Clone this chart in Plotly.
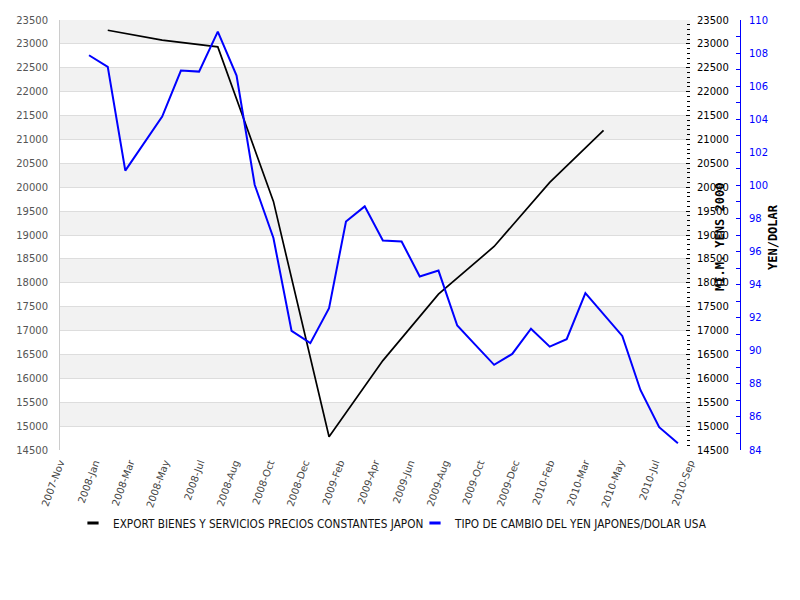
import plotly.graph_objects as go
import pandas as pd
import numpy as np

# ---------------- data ----------------
blue_months = [
    "2008-01-01", "2008-02-01", "2008-03-01", "2008-04-01", "2008-05-01", "2008-06-01",
    "2008-07-01", "2008-08-01", "2008-09-01", "2008-10-01", "2008-11-01", "2008-12-01",
    "2009-01-01", "2009-02-01", "2009-03-01", "2009-04-01", "2009-05-01", "2009-06-01",
    "2009-07-01", "2009-08-01", "2009-09-01", "2009-10-01", "2009-11-01", "2009-12-01",
    "2010-01-01", "2010-02-01", "2010-03-01", "2010-04-01", "2010-05-01", "2010-06-01",
    "2010-07-01", "2010-08-01", "2010-09-01",
]
yen_dolar = [
    107.87, 107.17, 100.89, 102.52, 104.16, 106.94, 106.88, 109.30, 106.64, 100.04,
    96.82, 91.20, 90.46, 92.58, 97.82, 98.73, 96.67, 96.61, 94.49, 94.85,
    91.53, 90.36, 89.15, 89.81, 91.33, 90.25, 90.70, 93.49, 92.19, 90.90,
    87.63, 85.38, 84.41,
]

black_quarters = [
    "2008-02-01", "2008-05-01", "2008-08-01", "2008-11-01", "2009-02-01",
    "2009-05-01", "2009-08-01", "2009-11-01", "2010-02-01", "2010-05-01",
]
export_japon = [23286, 23080, 22938, 19703, 14778, 16371, 17762, 18760, 20101, 21191]

x_tick_labels = [
    "2007-Nov", "2008-Jan", "2008-Mar", "2008-May", "2008-Jul", "2008-Aug",
    "2008-Oct", "2008-Dec", "2009-Feb", "2009-Apr", "2009-Jun", "2009-Aug",
    "2009-Oct", "2009-Dec", "2010-Feb", "2010-Mar", "2010-May", "2010-Jul", "2010-Sep",
]

name_black = "EXPORT BIENES Y SERVICIOS PRECIOS CONSTANTES JAPON"
name_blue = "TIPO DE CAMBIO DEL YEN JAPONES/DOLAR USA"
title_left = "MI.M. YENS 2000"
title_right = "YEN/DOLAR"

y1_range = [14500, 23500]
y1_step = 500
y2_range = [84, 110]

x_start = pd.Timestamp("2007-11-14")
x_end = pd.Timestamp("2010-09-21")
tick_positions = pd.date_range(x_start, x_end, periods=len(x_tick_labels))

# ---------------- figure ----------------
W, H = 800, 600
OFF = 8  # page body margin offset
plot_left, plot_right, plot_top, plot_bottom = 60, 690, 20, 450
paper_right = 750
ml = plot_left - OFF
mt = plot_top - OFF
mb = H - (plot_bottom - OFF)
mr = W - (paper_right - OFF)
paper_w = W - ml - mr
paper_h = H - mt - mb


def px_x(page_x):
    return (page_x - plot_left) / paper_w


def px_y(page_y):
    return (plot_bottom - page_y) / paper_h


fig = go.Figure()

fig.add_trace(go.Scatter(
    x=black_quarters, y=export_japon, mode="lines", name=name_black,
    line=dict(color="#000000", width=1.7), yaxis="y", showlegend=False,
))
fig.add_trace(go.Scatter(
    x=blue_months, y=yen_dolar, mode="lines", name=name_blue,
    line=dict(color="#0000ff", width=2), yaxis="y2", showlegend=False,
))
for nm, col, ax in [(name_black, "#000000", "y"), (name_blue, "#0000ff", "y2")]:
    fig.add_trace(go.Scatter(
        x=[None], y=[None], mode="markers", name=nm, yaxis=ax,
        marker=dict(symbol="line-ew", size=8, line=dict(color=col, width=3)),
    ))
fig.add_trace(go.Scatter(x=[None], y=[None], yaxis="y3", showlegend=False, hoverinfo="skip"))

levels = np.arange(y1_range[0], y1_range[1] + 1, y1_step)
shapes = []
for i in range(len(levels) - 1):
    if i % 2 == 1:
        shapes.append(dict(
            type="rect", xref="x domain", yref="y", x0=0, x1=1,
            y0=float(levels[i]), y1=float(levels[i + 1]),
            fillcolor="#f2f2f2", line=dict(width=0), layer="below",
        ))

fig.update_layout(
    width=W, height=H,
    margin=dict(l=ml, r=mr, t=mt, b=mb, autoexpand=False),
    paper_bgcolor="white", plot_bgcolor="white",
    shapes=shapes,
    xaxis=dict(
        type="date", domain=[0, px_x(plot_right)], automargin=False,
        range=[x_start, x_end],
        tickmode="array", tickvals=list(tick_positions), ticktext=x_tick_labels,
        tickangle=-70, tickfont=dict(family="DejaVu Sans", size=10, color="#444444"),
        showgrid=False, zeroline=False, showline=False, ticks="",
        ticklabelstandoff=4,
    ),
    yaxis=dict(
        range=y1_range, dtick=y1_step, tick0=y1_range[0], tickformat="d",
        automargin=False,
        showgrid=True, gridcolor="#dddddd", gridwidth=1,
        showline=True, linecolor="#cccccc", linewidth=1,
        ticks="", tickfont=dict(family="DejaVu Sans", size=10, color="#555555"),
        ticklabelstandoff=9, zeroline=False,
    ),
    yaxis3=dict(
        range=y1_range, dtick=y1_step, tick0=y1_range[0], tickformat="d",
        overlaying="y", side="right", anchor="x", automargin=False,
        showgrid=False, showline=False, zeroline=False,
        ticks="inside", ticklen=4, tickcolor="#000000", tickwidth=1,
        minor=dict(dtick=100, tick0=y1_range[0], ticks="inside", ticklen=3,
                   tickcolor="#000000", tickwidth=1, showgrid=False),
        tickfont=dict(family="DejaVu Sans", size=10, color="#000000"),
        ticklabelstandoff=6,
    ),
    yaxis2=dict(
        range=y2_range, dtick=2, tick0=y2_range[0], tickformat="d",
        overlaying="y", side="right", anchor="free", position=px_x(740),
        automargin=False,
        showgrid=False, zeroline=False,
        showline=True, linecolor="#0000ff", linewidth=1,
        ticks="inside", ticklen=4, tickcolor="#0000ff", tickwidth=1,
        minor=dict(dtick=1, tick0=y2_range[0], ticks="inside", ticklen=4,
                   tickcolor="#0000ff", tickwidth=1, showgrid=False),
        tickfont=dict(family="DejaVu Sans", size=10, color="#0000ff"),
        ticklabelstandoff=6,
    ),
    legend=dict(
        orientation="h", x=px_x(73), xanchor="left",
        y=px_y(523), yanchor="middle",
        font=dict(family="DejaVu Sans Condensed", size=11.7, color="#111111"),
        itemwidth=30, entrywidth=297, entrywidthmode="pixels",
        bgcolor="rgba(0,0,0,0)", traceorder="normal",
    ),
    annotations=[
        dict(text=title_left, xref="paper", yref="paper",
             x=px_x(720), y=px_y(237),
             textangle=-90, showarrow=False, xanchor="center", yanchor="middle",
             font=dict(family="DejaVu Sans Mono", size=12, color="#000000", weight="bold")),
        dict(text=title_right, xref="paper", yref="paper",
             x=px_x(773), y=px_y(237),
             textangle=-90, showarrow=False, xanchor="center", yanchor="middle",
             font=dict(family="DejaVu Sans Mono", size=12, color="#000000", weight="bold")),
    ],
)

fig.write_html("out.html")
